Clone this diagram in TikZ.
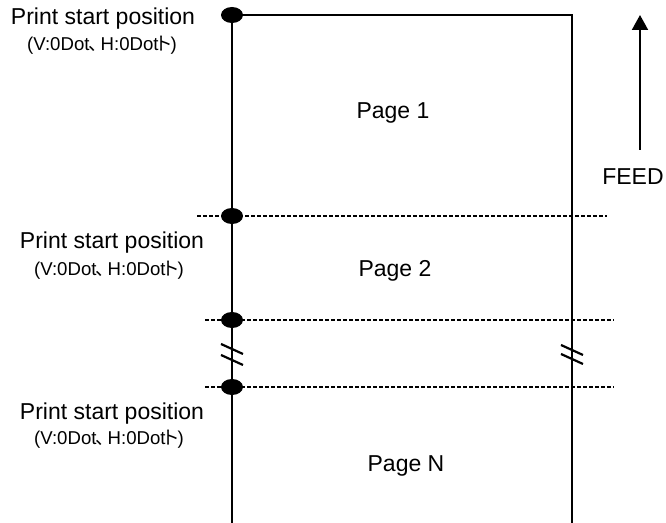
\documentclass[tikz,border=0pt]{standalone}
\usepackage{fontspec}
\setmainfont{Liberation Sans}
\newfontfamily\jpfont{Noto Sans CJK JP}
\usetikzlibrary{shapes,arrows.meta,positioning}

\newcommand{\dotpos}{(V:0Dot{\jpfont\kern-0.05em 、\kern-0.35em}H:0Dot{\jpfont\kern-0.2em ト\kern-0.15em})}

\begin{document}
\begin{tikzpicture}[x=0.5pt, y=-0.5pt, line width=1pt,
      dot/.style={ellipse, fill=black, inner sep=0pt, minimum width=11pt, minimum height=8pt},
      cut/.style={line width=0.6pt, dash pattern=on 2pt off 1pt},
      lbl/.style={font=\fontsize{11.5}{14}\selectfont},
      sublbl/.style={font=\fontsize{9.3}{11}\selectfont}]
    \useasboundingbox (0,0) rectangle (666,523);
    % page edges
    \coordinate (TR) at (572,15);
    \coordinate (BL) at (232,523);
    \coordinate (BR) at (572,523);
    \node (start1) [dot] at (232,15) {};
    \node (start2) [dot] at (232,216) {};
    \node (end2) [dot] at (232,320) {};
    \node (startN) [dot] at (232,387) {};
    \draw (start1.center) -- (TR) -- (BR);
    \draw (start1.center) -- (BL);
    % page boundaries
    \coordinate (c1a) at (197,216); \coordinate (c1b) at (607,216);
    \coordinate (c2a) at (205,320); \coordinate (c2b) at (614,320);
    \coordinate (c3a) at (205,387); \coordinate (c3b) at (614,387);
    \draw[cut] (c1a) -- (c1b);
    \draw[cut] (c2a) -- (c2b);
    \draw[cut] (c3a) -- (c3b);
    % break marks
    \foreach \x/\y in {232/349, 232/360, 572/350, 572/359}
      \draw[line width=1.1pt] (\x-11,\y-5) -- (\x+11,\y+5);
    % labels
    \node (lbl1) [lbl] at (103,19) {Print start position};
    \node (sub1) [sublbl] at (102,45) {\dotpos};
    \node (lbl2) [lbl] at (112,243) {Print start position};
    \node (sub2) [sublbl] at (109,270) {\dotpos};
    \node (lbl3) [lbl] at (112,414) {Print start position};
    \node (sub3) [sublbl] at (109,439) {\dotpos};
    \node (page1) [lbl] at (393,113) {Page 1};
    \node (page2) [lbl] at (395,271) {Page 2};
    \node (pageN) [lbl] at (406,466) {Page N};
    % feed direction
    \node (feed) [lbl] at (633,177) {FEED};
    \coordinate (feedtop) at (640,15);
    \draw[-{Triangle[length=7.5pt,width=8pt]}] (640,150) -- (feedtop);
  \end{tikzpicture}
\end{document}
